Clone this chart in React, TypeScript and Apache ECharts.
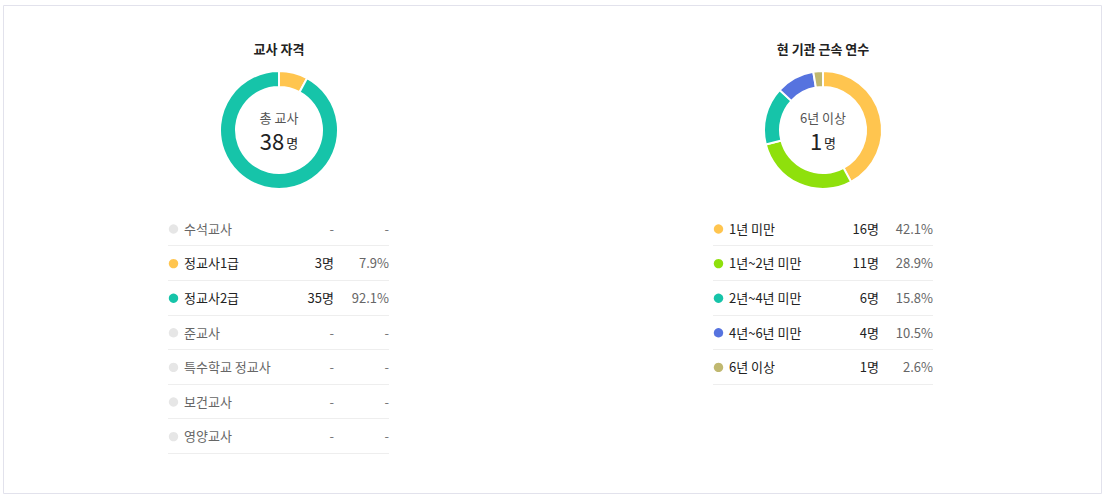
import React, { useEffect, useRef } from "react";
import * as echarts from "echarts";

const FONT = "'Noto Sans CJK KR', 'Noto Sans', sans-serif";

// Left: 교사 자격
const qualTitle = "교사 자격";
const qualCategories = ["수석교사", "정교사1급", "정교사2급", "준교사", "특수학교 정교사", "보건교사", "영양교사"];
const qualCounts: (number | null)[] = [null, 3, 35, null, null, null, null];
const qualPercents = ["-", "7.9%", "92.1%", "-", "-", "-", "-"];
const qualColors = ["#E6E6E6", "#FFC54F", "#16C4A9", "#E6E6E6", "#E6E6E6", "#E6E6E6", "#E6E6E6"];
const qualCenterLabel = "총 교사";
const qualCenterValue = "38";

// Right: 현 기관 근속 연수
const yearsTitle = "현 기관 근속 연수";
const yearsCategories = ["1년 미만", "1년~2년 미만", "2년~4년 미만", "4년~6년 미만", "6년 이상"];
const yearsCounts: (number | null)[] = [16, 11, 6, 4, 1];
const yearsPercents = ["42.1%", "28.9%", "15.8%", "10.5%", "2.6%"];
const yearsColors = ["#FFC54F", "#8FE00C", "#16C4A9", "#5673DF", "#C0B870"];
const yearsCenterLabel = "6년 이상";
const yearsCenterValue = "1";

const UNIT = "명";

function buildTable(
  cats: string[],
  counts: (number | null)[],
  pcts: string[],
  colors: string[],
  x0: number,
  x1: number,
  countRight: number
) {
  const els: any[] = [];
  const top = 228.3;
  const step = 34.6;
  cats.forEach((c, i) => {
    const y = top + i * step;
    const active = counts[i] !== null;
    els.push({
      type: "circle",
      shape: { cx: x0 + 5.5, cy: y + 0.7, r: 4.7 },
      style: { fill: colors[i] },
      silent: true,
    });
    els.push({
      type: "text",
      x: x0 + 16,
      y: y,
      style: {
        text: c,
        font: `13px ${FONT}`,
        fill: active ? "#222" : "#666",
        textAlign: "left",
        textVerticalAlign: "middle",
      },
      silent: true,
    });
    els.push({
      type: "text",
      x: countRight,
      y: y,
      style: {
        text: active ? `${counts[i]}${UNIT}` : "-",
        font: `13px ${FONT}`,
        fill: active ? "#222" : "#777",
        textAlign: "right",
        textVerticalAlign: "middle",
      },
      silent: true,
    });
    els.push({
      type: "text",
      x: x1,
      y: y,
      style: {
        text: pcts[i],
        font: `13px ${FONT}`,
        fill: active ? "#666" : "#777",
        textAlign: "right",
        textVerticalAlign: "middle",
      },
      silent: true,
    });
    const ly = Math.round(y + 17) + 0.5;
    els.push({
      type: "line",
      shape: { x1: x0, y1: ly, x2: x1, y2: ly },
      style: { stroke: "#EEEEEE", lineWidth: 1 },
      silent: true,
    });
  });
  return els;
}

function centerTexts(cx: number, title: string, label: string, value: string) {
  return [
    {
      type: "text",
      x: cx,
      y: 48,
      style: {
        text: title,
        font: `bold 13px ${FONT}`,
        fill: "#222",
        textAlign: "center",
        textVerticalAlign: "middle",
      },
      silent: true,
    },
    {
      type: "text",
      x: cx,
      y: 117.5,
      style: {
        text: label,
        font: `13px ${FONT}`,
        fill: "#555",
        textAlign: "center",
        textVerticalAlign: "middle",
        lineHeight: 15,
      },
      silent: true,
    },
    {
      type: "text",
      x: cx,
      y: 140,
      style: {
        text: `{a|${value}}{b|${UNIT}}`,
        textAlign: "center",
        textVerticalAlign: "middle",
        rich: {
          a: { fontSize: 22, fontFamily: FONT, fill: "#222", color: "#222", lineHeight: 22, padding: [0, 2, 0, 0] },
          b: { fontSize: 13, fontFamily: FONT, fill: "#222", color: "#222", lineHeight: 22, padding: [4, 0, 0, 0] },
        },
      },
      silent: true,
    },
  ];
}

export default function App() {
  const ref = useRef<HTMLDivElement>(null);
  useEffect(() => {
    document.body.style.margin = "0";
    const chart = echarts.init(ref.current!, null, { renderer: "svg" });
    const qualData = qualCategories
      .map((n, i) => ({ name: n, value: qualCounts[i], itemStyle: { color: qualColors[i] } }))
      .filter((d) => d.value !== null);
    const yearsData = yearsCategories
      .map((n, i) => ({ name: n, value: yearsCounts[i], itemStyle: { color: yearsColors[i] } }))
      .filter((d) => d.value !== null);
    const pieBase = {
      type: "pie",
      radius: [43, 59],
      startAngle: 90,
      clockwise: true,
      label: { show: false },
      labelLine: { show: false },
      emphasis: { disabled: true },
      silent: true,
      itemStyle: { borderColor: "#fff", borderWidth: 2 },
    };
    chart.setOption({
      animation: false,
      backgroundColor: "#fff",
      series: [
        { ...pieBase, center: [279, 130], data: qualData },
        { ...pieBase, center: [823, 130], data: yearsData },
      ],
      graphic: [
        {
          type: "rect",
          shape: { x: 3.5, y: 5.5, width: 1098, height: 488 },
          style: { fill: "none", stroke: "#E2E2EC", lineWidth: 1 },
          silent: true,
        },
        ...centerTexts(279, qualTitle, qualCenterLabel, qualCenterValue),
        ...centerTexts(823, yearsTitle, yearsCenterLabel, yearsCenterValue),
        ...buildTable(qualCategories, qualCounts, qualPercents, qualColors, 168, 389, 334),
        ...buildTable(yearsCategories, yearsCounts, yearsPercents, yearsColors, 713, 933, 879),
      ],
    });
    return () => chart.dispose();
  }, []);
  return <div ref={ref} style={{ position: "absolute", left: 0, top: 0, width: 1105, height: 497 }} />;
}
